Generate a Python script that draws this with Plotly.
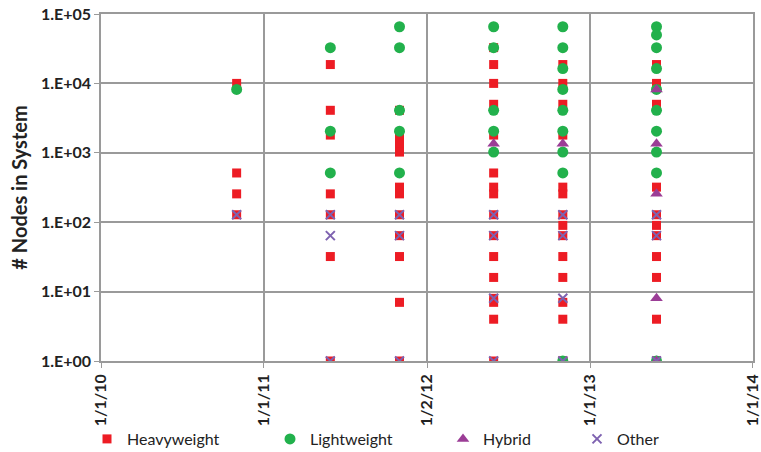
import plotly.graph_objects as go

# ---- data ----
heavy_dates = (["2010-11-01"] * 4 + ["2011-05-30"] * 7 + ["2011-11-01"] * 11 +
               ["2012-05-30"] * 16 + ["2012-11-01"] * 15 + ["2013-05-30"] * 13)
heavy_nodes = [10000, 512, 256, 128,
               18688, 4096, 1800, 256, 128, 32, 1,
               4096, 1700, 1300, 1024, 320, 256, 128, 64, 32, 7, 1,
               32768, 18688, 10000, 5000, 1800, 512, 320, 256, 128, 64, 32, 16, 8, 7, 4, 1,
               18688, 10000, 5000, 1800, 320, 256, 128, 90, 64, 32, 16, 7, 4, 1, 1,
               18688, 10000, 5000, 320, 128, 90, 64, 32, 16, 4, 1, 1, 1]

light_dates = (["2010-11-01"] * 1 + ["2011-05-30"] * 3 + ["2011-11-01"] * 5 +
               ["2012-05-30"] * 5 + ["2012-11-01"] * 9 + ["2013-05-30"] * 10)
light_nodes = [8192,
               32768, 2048, 512,
               65536, 32768, 4096, 2048, 512,
               65536, 32768, 4096, 2048, 1024,
               65536, 32768, 16384, 8192, 4096, 2048, 1024, 512, 1,
               65536, 50000, 32768, 16384, 8192, 4096, 2048, 1024, 512, 1]

hybrid_dates = ["2012-05-30", "2012-11-01"] + ["2013-05-30"] * 5
hybrid_nodes = [1350, 1350, 8192, 1350, 256, 8, 1]

other_dates = (["2010-11-01"] * 1 + ["2011-05-30"] * 3 + ["2011-11-01"] * 3 +
               ["2012-05-30"] * 4 + ["2012-11-01"] * 4 + ["2013-05-30"] * 3)
other_nodes = [128,
               128, 64, 1,
               128, 64, 1,
               128, 64, 8, 1,
               128, 64, 8, 1,
               128, 64, 1]

x_tick_vals = ["2010-01-01", "2011-01-01", "2012-01-02", "2013-01-01", "2014-01-01"]
x_tick_text = ["1/1/10", "1/1/11", "1/2/12", "1/1/13", "1/1/14"]
y_tick_vals = [1, 10, 100, 1000, 10000, 100000]
y_tick_text = ["1.E+00", "1.E+01", "1.E+02", "1.E+03", "1.E+04", "1.E+05"]

FONT = "Lato, 'Open Sans', sans-serif"
GRID = "#9a9a9a"

fig = go.Figure()
fig.add_trace(go.Scatter(x=heavy_dates, y=heavy_nodes, mode="markers", name="Heavyweight",
                         marker=dict(symbol="square", size=9, color="#ED1C24"), legend="legend"))
fig.add_trace(go.Scatter(x=light_dates, y=light_nodes, mode="markers", name="Lightweight",
                         marker=dict(symbol="circle", size=11, color="#22B14C"), legend="legend2"))
fig.add_trace(go.Scatter(x=hybrid_dates, y=hybrid_nodes, mode="markers", name="Hybrid",
                         marker=dict(symbol="triangle-up", size=11, color="#9B3D96"), legend="legend3"))
fig.add_trace(go.Scatter(x=other_dates, y=other_nodes, mode="markers", name="Other",
                         marker=dict(symbol="x-thin-open", size=9, color="#7E62B0",
                                     line=dict(width=2, color="#7E62B0")), legend="legend4"))

def leg(xpx):
    return dict(orientation="h", xref="container", yref="container",
                x=xpx / 761, y=1 - 439 / 452, xanchor="left", yanchor="middle",
                font=dict(family=FONT, size=16, color="#222"), bgcolor="rgba(0,0,0,0)",
                itemwidth=30, tracegroupgap=0)

fig.update_layout(
    width=761, height=452,
    margin=dict(l=101, r=8, t=14, b=91, autoexpand=False),
    paper_bgcolor="white", plot_bgcolor="white",
    showlegend=True,
    legend=leg(87), legend2=leg(270), legend3=leg(443), legend4=leg(577),
    font=dict(family=FONT, color="#222"),
)
fig.update_xaxes(type="date", range=["2010-01-01", "2014-01-01 06:00"],
                 tickvals=x_tick_vals, ticktext=x_tick_text, tickangle=-90,
                 tickfont=dict(family=FONT, size=16, color="#222", weight="bold"),
                 ticklabeloverflow="allow",
                 showgrid=True, gridcolor=GRID, gridwidth=1.5,
                 showline=True, linecolor=GRID, linewidth=1.5, mirror=True,
                 ticks="outside", ticklen=5, tickcolor=GRID, zeroline=False,
                 automargin=False)
fig.update_yaxes(type="log", range=[0, 5],
                 tickvals=y_tick_vals, ticktext=y_tick_text,
                 tickfont=dict(family=FONT, size=16, color="#222", weight="bold"),
                 showgrid=True, gridcolor=GRID, gridwidth=1.5,
                 showline=True, linecolor=GRID, linewidth=1.5, mirror=True,
                 ticks="outside", ticklen=5, tickcolor=GRID, zeroline=False,
                 automargin=False,
                 title=dict(text="# Nodes in System", standoff=8,
                            font=dict(family=FONT, size=20, color="#222", weight="bold")))

fig.write_html("out.html", config={"displayModeBar": False},
               post_script="document.body.style.margin='0';document.body.style.overflow='hidden';")
